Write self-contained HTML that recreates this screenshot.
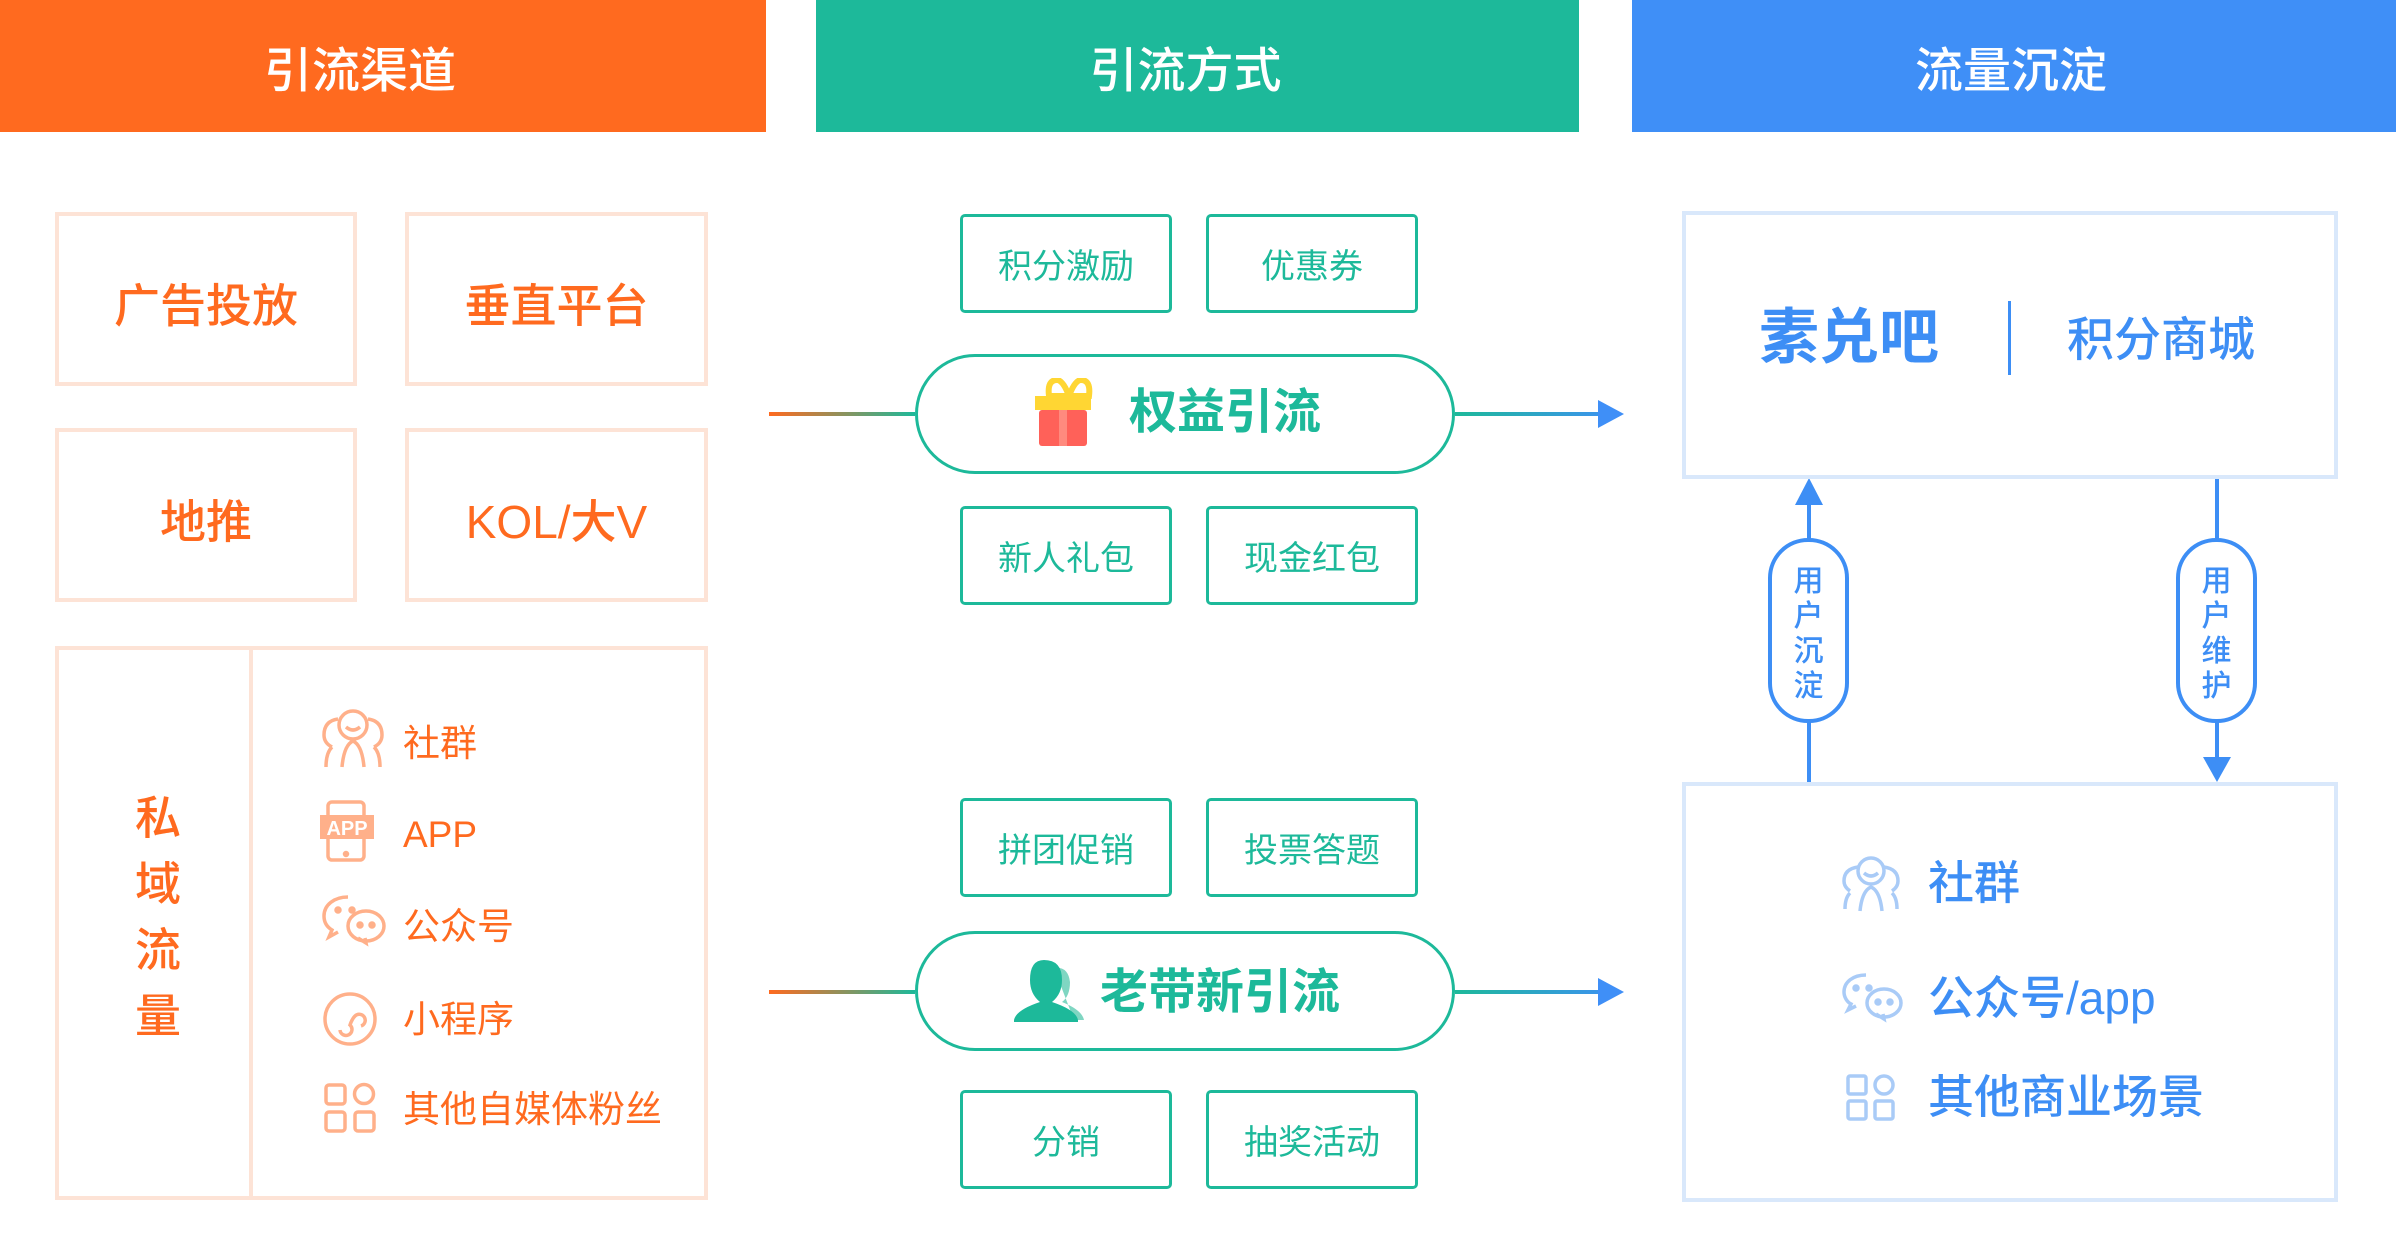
<!DOCTYPE html>
<html><head><meta charset="utf-8">
<style>
*{margin:0;padding:0;box-sizing:border-box}
body{width:2396px;height:1254px;background:#fff;position:relative;overflow:hidden;font-family:"Liberation Sans","Noto Sans CJK SC",sans-serif}
.a{position:absolute}
.hd{top:0;height:132px;color:#fff;font-size:48px;display:flex;align-items:center;justify-content:center;font-weight:500}
.ob{border:4px solid #fde3d6;display:flex;align-items:center;justify-content:center;color:#ff6a1f;font-size:46px;font-weight:500;padding-top:8px}
.gb{border:3px solid #1db99a;border-radius:5px;display:flex;align-items:center;justify-content:center;color:#1db99a;font-size:34px;width:212px;height:99px}
.pill{border:3px solid #1db99a;border-radius:60px;width:540px;height:120px;left:915px;background:#fff}
.bb{border:4px solid #d9e8fb}
.it{color:#ff6a1f;font-size:37px;left:403px;line-height:1}
.bt{color:#3d8ef5;font-size:46px;left:1928px;line-height:1;font-weight:500}
.cap{border:4px solid #3d8ef5;border-radius:40px;width:81px;height:185px;background:#fff;color:#3d8ef5;font-size:30px;line-height:35px;text-align:center;padding-top:22px;font-weight:500}
</style></head><body>
<div class="a hd" style="left:0;width:720px;background:#ff6a1f"></div>
<div class="a hd" style="left:0;width:766px;background:#ff6a1f;padding-right:46px">引流渠道</div>
<div class="a hd" style="left:816px;width:763px;background:#1db99a;padding-right:24px">引流方式</div>
<div class="a hd" style="left:1632px;width:764px;background:#3f8ff7;padding-right:6px">流量沉淀</div>

<div class="a ob" style="left:55px;top:212px;width:302px;height:174px">广告投放</div>
<div class="a ob" style="left:405px;top:212px;width:303px;height:174px">垂直平台</div>
<div class="a ob" style="left:55px;top:428px;width:302px;height:174px">地推</div>
<div class="a ob" style="left:405px;top:428px;width:303px;height:174px">KOL/大V</div>
<div class="a ob" style="left:55px;top:646px;width:653px;height:554px"></div>
<div class="a" style="left:249px;top:646px;width:4px;height:554px;background:#fde3d6"></div>
<div class="a" style="left:135px;top:785px;width:46px;color:#ff6a1f;font-size:46px;line-height:66px;font-weight:500;text-align:center">私<br>域<br>流<br>量</div>

<svg class="a" style="left:318px;top:705px" width="70" height="430" viewBox="0 0 70 430" fill="none" stroke="#ffb08a" stroke-width="3.5">
<circle cx="35" cy="20" r="14"/><path d="M28 22q7 6 14 0"/><path d="M20 14q-14 2-14 16q0 8 8 12M50 14q14 2 14 16q0 8-8 12M14 42q-6 6-6 20M56 42q6 6 6 20M24 62q2-22 11-26q9 4 11 26"/>
<rect x="10" y="97" width="36" height="58" rx="4" fill="none"/><rect x="2" y="110" width="54" height="24" fill="#ffb08a" stroke="none"/>
<text x="29" y="130" font-size="20" font-weight="bold" fill="#fff" stroke="none" text-anchor="middle" font-family="Liberation Sans">APP</text><circle cx="28" cy="149" r="1.5" fill="#ffb08a"/>
<path d="M30 192c-14 0-24 8-24 19c0 6 3 11 8 14l-3 7l9-5"/><ellipse cx="48" cy="221" rx="18" ry="15"/><path d="M40 233l8 5l-1-5"/>
<circle cx="20" cy="205" r="2" fill="#ffb08a"/><circle cx="34" cy="205" r="2" fill="#ffb08a"/><circle cx="42" cy="220" r="2" fill="#ffb08a"/><circle cx="54" cy="220" r="2" fill="#ffb08a"/>
<circle cx="32" cy="314" r="25"/><path d="M22 325a6 6 0 1 0 10-5q2-6 5-9a6 6 0 1 1 6 10"/>
<rect x="8" y="380" width="19" height="19" rx="3"/><circle cx="46" cy="389" r="9.5"/><rect x="8" y="407" width="19" height="19" rx="3"/><rect x="37" y="407" width="19" height="19" rx="3"/>
</svg>
<div class="a it" style="top:725px">社群</div>
<div class="a it" style="top:816px;font-family:'Liberation Sans',sans-serif">APP</div>
<div class="a it" style="top:908px">公众号</div>
<div class="a it" style="top:1001px">小程序</div>
<div class="a it" style="top:1091px">其他自媒体粉丝</div>

<svg class="a" style="left:0;top:0" width="2396" height="1254">
<defs>
<linearGradient id="g1" x1="769" x2="915" gradientUnits="userSpaceOnUse"><stop offset="0" stop-color="#ff6a1f"/><stop offset="1" stop-color="#1db99a"/></linearGradient>
<linearGradient id="g2" x1="1455" x2="1624" gradientUnits="userSpaceOnUse"><stop offset="0" stop-color="#1db99a"/><stop offset="1" stop-color="#3f8ff7"/></linearGradient>
</defs>
<rect x="769" y="412" width="146" height="4" fill="url(#g1)"/>
<rect x="1455" y="412" width="145" height="4" fill="url(#g2)"/>
<polygon points="1598,400 1624,414 1598,428" fill="#3f8ff7"/>
<rect x="769" y="990" width="146" height="4" fill="url(#g1)"/>
<rect x="1455" y="990" width="145" height="4" fill="url(#g2)"/>
<polygon points="1598,978 1624,992 1598,1006" fill="#3f8ff7"/>
<line x1="1809" y1="500" x2="1809" y2="782" stroke="#3d8ef5" stroke-width="4"/>
<polygon points="1795,505 1809,478 1823,505" fill="#3d8ef5"/>
<line x1="2217" y1="478" x2="2217" y2="760" stroke="#3d8ef5" stroke-width="4"/>
<polygon points="2203,757 2217,782 2231,757" fill="#3d8ef5"/>
</svg>

<div class="a gb" style="left:960px;top:214px">积分激励</div>
<div class="a gb" style="left:1206px;top:214px">优惠券</div>
<div class="a pill" style="top:354px"></div>
<svg class="a" style="left:1027px;top:378px" width="72" height="70" viewBox="0 0 72 70">
<path d="M22 18q-2-16 8-16q6 0 12 16q6-16 12-16q10 0 8 16z" fill="none" stroke="#ffd633" stroke-width="6"/>
<rect x="8" y="18" width="56" height="14" fill="#ffd633"/><rect x="12" y="32" width="48" height="36" rx="3" fill="#ff6159"/><rect x="32" y="32" width="8" height="36" fill="#ff8a7e"/>
</svg>
<div class="a" style="left:1129px;top:389px;font-size:48px;font-weight:700;color:#1db99a;line-height:1">权益引流</div>
<div class="a gb" style="left:960px;top:506px">新人礼包</div>
<div class="a gb" style="left:1206px;top:506px">现金红包</div>

<div class="a gb" style="left:960px;top:798px">拼团促销</div>
<div class="a gb" style="left:1206px;top:798px">投票答题</div>
<div class="a pill" style="top:931px"></div>
<svg class="a" style="left:1012px;top:958px" width="76" height="66" viewBox="0 0 76 66">
<path d="M42 10q14-2 16 14q0 14-8 20q20 8 22 18l-10 0z" fill="#7fd6c2"/>
<path d="M32 2q18 0 18 20q0 14-10 22q24 8 26 18v2H2v-2q2-10 26-18q-10-8-10-22q0-20 14-20z" fill="#1db99a"/>
</svg>
<div class="a" style="left:1100px;top:969px;font-size:48px;font-weight:700;color:#1db99a;line-height:1">老带新引流</div>
<div class="a gb" style="left:960px;top:1090px">分销</div>
<div class="a gb" style="left:1206px;top:1090px">抽奖活动</div>

<div class="a bb" style="left:1682px;top:211px;width:656px;height:268px"></div>
<div class="a" style="left:1759px;top:308px;font-size:60px;font-weight:700;color:#3d8ef5;line-height:1">素兑吧</div>
<div class="a" style="left:2008px;top:301px;width:3px;height:74px;background:#3d8ef5"></div>
<div class="a" style="left:2067px;top:316px;font-size:47px;font-weight:500;color:#3d8ef5;line-height:1">积分商城</div>

<div class="a cap" style="left:1768px;top:538px">用<br>户<br>沉<br>淀</div>
<div class="a cap" style="left:2176px;top:538px">用<br>户<br>维<br>护</div>

<div class="a bb" style="left:1682px;top:782px;width:656px;height:420px"></div>
<svg class="a" style="left:1838px;top:855px" width="66" height="280" viewBox="0 0 66 280" fill="none" stroke="#a9cbf7" stroke-width="3.5">
<circle cx="33" cy="16" r="13"/><path d="M26 18q7 6 14 0"/><path d="M20 12q-14 2-14 14q0 6 6 10M46 12q14 2 14 14q0 6-6 10M12 38q-5 5-5 16M54 38q5 5 5 16M22 56q2-20 11-24q9 4 11 24"/>
<path d="M28 120c-13 0-22 7-22 17c0 5 3 10 7 12l-3 6l8-4"/><ellipse cx="46" cy="148" rx="17" ry="14"/><path d="M38 159l8 5l-1-5"/>
<circle cx="18" cy="133" r="2" fill="#a9cbf7"/><circle cx="31" cy="133" r="2" fill="#a9cbf7"/><circle cx="40" cy="147" r="2" fill="#a9cbf7"/><circle cx="52" cy="147" r="2" fill="#a9cbf7"/>
<rect x="10" y="221" width="18" height="18" rx="2"/><circle cx="46" cy="230" r="9"/><rect x="10" y="246" width="18" height="18" rx="2"/><rect x="37" y="246" width="18" height="18" rx="2"/>
</svg>
<div class="a bt" style="top:860px">社群</div>
<div class="a bt" style="top:975px">公众号/app</div>
<div class="a bt" style="top:1074px">其他商业场景</div>
</body></html>
